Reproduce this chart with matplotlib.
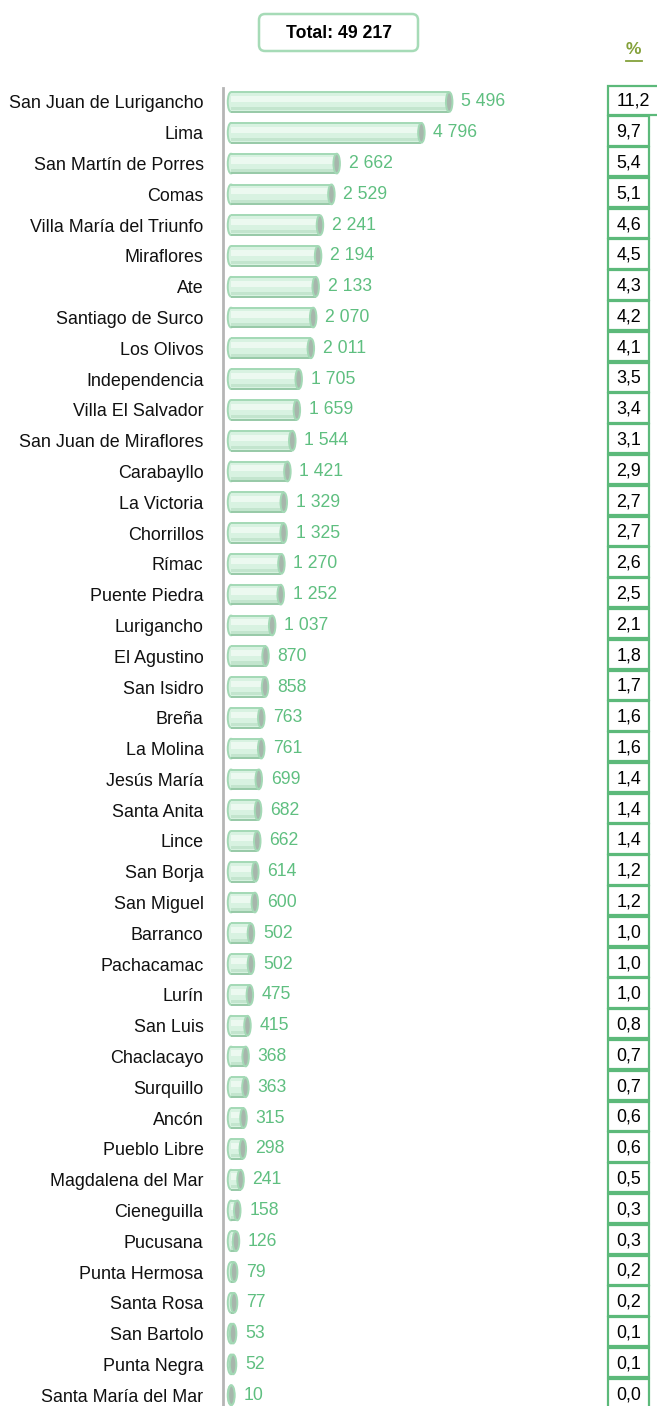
import matplotlib
matplotlib.use("Agg")
import matplotlib.pyplot as plt
from matplotlib.patches import Ellipse, Rectangle, FancyBboxPatch
from matplotlib.lines import Line2D
import matplotlib.transforms as mtransforms

plt.rcParams['font.family'] = ['Liberation Sans', 'DejaVu Sans']

districts = [
    "San Juan de Lurigancho", "Lima", "San Martín de Porres", "Comas",
    "Villa María del Triunfo", "Miraflores", "Ate", "Santiago de Surco",
    "Los Olivos", "Independencia", "Villa El Salvador", "San Juan de Miraflores",
    "Carabayllo", "La Victoria", "Chorrillos", "Rímac", "Puente Piedra",
    "Lurigancho", "El Agustino", "San Isidro", "Breña", "La Molina",
    "Jesús María", "Santa Anita", "Lince", "San Borja", "San Miguel",
    "Barranco", "Pachacamac", "Lurín", "San Luis", "Chaclacayo", "Surquillo",
    "Ancón", "Pueblo Libre", "Magdalena del Mar", "Cieneguilla", "Pucusana",
    "Punta Hermosa", "Santa Rosa", "San Bartolo", "Punta Negra",
    "Santa María del Mar",
]
values = [
    5496, 4796, 2662, 2529, 2241, 2194, 2133, 2070, 2011, 1705, 1659, 1544,
    1421, 1329, 1325, 1270, 1252, 1037, 870, 858, 763, 761, 699, 682, 662,
    614, 600, 502, 502, 475, 415, 368, 363, 315, 298, 241, 158, 126, 79, 77,
    53, 52, 10,
]
percents = [
    11.2, 9.7, 5.4, 5.1, 4.6, 4.5, 4.3, 4.2, 4.1, 3.5, 3.4, 3.1, 2.9, 2.7,
    2.7, 2.6, 2.5, 2.1, 1.8, 1.7, 1.6, 1.6, 1.4, 1.4, 1.4, 1.2, 1.2, 1.0,
    1.0, 1.0, 0.8, 0.7, 0.7, 0.6, 0.6, 0.5, 0.3, 0.3, 0.2, 0.2, 0.1, 0.1, 0.0,
]
total_label = "Total: 49 217"
pct_header = "%"


def fmt_int(v):
    return f"{v:,}".replace(",", " ")


def fmt_pct(p):
    return f"{p:.1f}".replace(".", ",")


W, H = 657, 1406
fig = plt.figure(figsize=(W / 100, H / 100), dpi=100)

# layout in pixels
ax_left, ax_right, ax_top, ax_bottom = 223, 600, 88, 1406
px_per_unit = 0.0397
x0_px = 231
row_px = 30.79
first_row_px = 102

ax = fig.add_axes([ax_left / W, 1 - ax_bottom / H,
                   (ax_right - ax_left) / W, (ax_bottom - ax_top) / H])
ax.set_xlim(-(x0_px - ax_left) / px_per_unit, (ax_right - x0_px) / px_per_unit)
ax.set_ylim((ax_bottom - first_row_px) / row_px, -(first_row_px - ax_top) / row_px)

n = len(values)
ypos = list(range(n))
bar_h = 0.64
cap_w = 6.5 / px_per_unit

body_c = '#d8f2e1'
edge_c = '#a3d9b5'
ax.barh(ypos, values, height=bar_h, color=body_c, edgecolor='none', zorder=3)
ax.barh([y - 0.1 for y in ypos], values, height=0.2, color='#ecf9f0',
        edgecolor='none', zorder=4)
ax.barh([y + 0.22 for y in ypos], values, height=0.1, color='#c3e5ce',
        edgecolor='none', zorder=4)
ax.hlines([y - bar_h / 2 for y in ypos], 0, values, color=edge_c, lw=1.4, zorder=5)
ax.hlines([y + bar_h / 2 for y in ypos], 0, values, color='#97c9a7', lw=1.4, zorder=5)

for y, v in zip(ypos, values):
    ax.add_patch(Ellipse((0, y), cap_w, bar_h, fc=body_c, ec=edge_c, lw=1.4, zorder=2))
    ax.add_patch(Ellipse((v, y), cap_w, bar_h, fc='#a7b6ac', ec=edge_c, lw=1.4, zorder=6))
    ax.annotate(fmt_int(v), (v, y), xytext=(12 * 0.72, 0), textcoords='offset points',
                va='center', ha='left', color='#5fbf80', fontsize=12.7)

ax.set_yticks(ypos)
ax.set_yticklabels(districts, fontsize=12.9, color='#111111')
ax.tick_params(axis='y', length=0, pad=14)
ax.set_xticks([])
for s in ['top', 'right', 'bottom']:
    ax.spines[s].set_visible(False)
ax.spines['left'].set_color('#b5b5b5')
ax.spines['left'].set_linewidth(2.0)

# percentage boxes
blend = mtransforms.blended_transform_factory(fig.transFigure, ax.transData)
box_left = 608
text_left = 616.5
for y, p in zip(ypos, percents):
    s = fmt_pct(p)
    bw = 56 if len(s) > 3 else 41
    ax.add_patch(Rectangle((box_left / W, y - 0.06 - 0.475), bw / W, 0.95, transform=blend,
                           fc='white', ec='#5cb97a', lw=1.6, clip_on=False, zorder=7))
    ax.text(text_left / W, y - 0.02, s, transform=blend, ha='left', va='center',
            fontsize=12.9, color='black', clip_on=False, zorder=8)

# total box
idt = mtransforms.IdentityTransform()
fig.add_artist(FancyBboxPatch((259, H - 51), 159, 37,
                              boxstyle='round,pad=0,rounding_size=6',
                              transform=idt, fc='white', ec='#a6dbb7', lw=1.8))
fig.text(338.5 / W, 1 - 33 / H, total_label, ha='center', va='center',
         fontsize=12.7, fontweight='bold', color='black')

# % header
fig.text(633.5 / W, 1 - 50 / H, pct_header, ha='center', va='center',
         fontsize=12.5, fontweight='bold', color='#84a13a')
fig.add_artist(Line2D([625.5 / W, 641.5 / W], [1 - 61 / H, 1 - 61 / H],
                      transform=fig.transFigure, color='#84a13a', lw=1.3))

fig.savefig('out.png', dpi=100)
